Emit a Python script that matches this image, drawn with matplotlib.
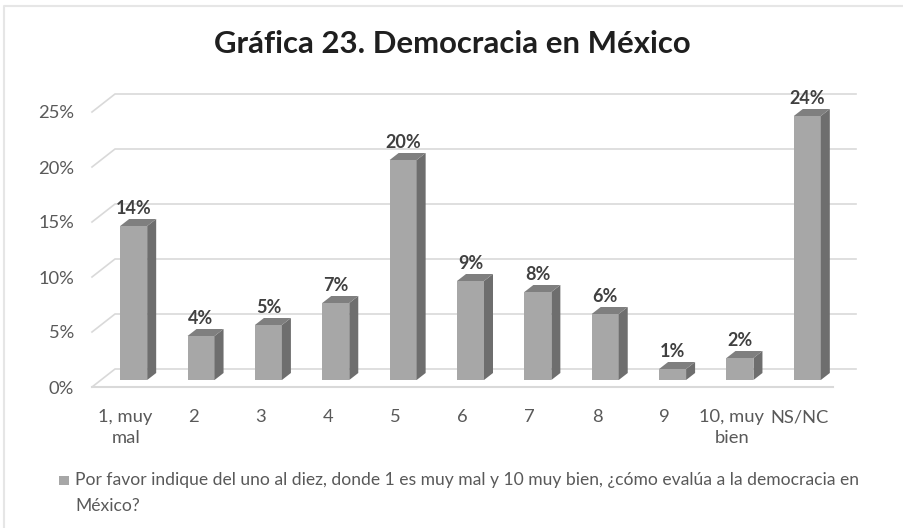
import matplotlib.pyplot as plt
from matplotlib.patches import Polygon
from matplotlib.lines import Line2D
from matplotlib.patches import Rectangle

plt.rcParams['font.family'] = ['Lato', 'DejaVu Sans']

categorias = ['1, muy\nmal', '2', '3', '4', '5', '6', '7', '8', '9', '10, muy\nbien', 'NS/NC']
valores = [0.14, 0.04, 0.05, 0.07, 0.20, 0.09, 0.08, 0.06, 0.01, 0.02, 0.24]
yticks = [0, 0.05, 0.10, 0.15, 0.20, 0.25]
ytick_labels = ['0%', '5%', '10%', '15%', '20%', '25%']
titulo = 'Gráfica 23. Democracia en México'
leyenda = ('Por favor indique del uno al diez, donde 1 es muy mal y 10 muy bien, ¿cómo evalúa a la democracia en\n'
           'México?')

fig = plt.figure(figsize=(9.04, 5.28), dpi=100)
ax = fig.add_axes([92 / 904, 1 - 387 / 528, 741 / 904, 275 / 528])
ax.set_xlim(-0.5, len(categorias) - 0.5)
ax.set_ylim(0, 0.25)
for s in ax.spines.values():
    s.set_visible(False)

# profundidad del efecto 3D (en unidades de datos)
px_x = 741 / len(categorias)
px_y = 275 / 0.25
fondo_dx, fondo_dy = 23 / px_x, 18 / px_y
barra_dx, barra_dy = 8 / px_x, 7 / px_y
lado_dx, lado_dy = 9 / px_x, 7 / px_y
ancho = 27 / px_x

grid_c = '#d9d9d9'
x0, x1 = -0.5, len(categorias) - 0.5
for v in yticks:
    ax.add_line(Line2D([x0, x0 + fondo_dx, x1 + fondo_dx], [v, v + fondo_dy, v + fondo_dy],
                       color=grid_c, lw=1.2, clip_on=False, zorder=1))
ax.add_line(Line2D([x0, x1], [0, 0], color=grid_c, lw=1.5, clip_on=False, zorder=1))

frente_c, lado_c, techo_c = '#a7a7a7', '#6e6e6e', '#7f7f7f'
for i, v in enumerate(valores):
    xl = i - ancho / 2 + barra_dx
    xr = xl + ancho
    yb = barra_dy
    yt = v + barra_dy
    ax.add_patch(Polygon([(xl, yb), (xr, yb), (xr, yt), (xl, yt)], closed=True,
                         facecolor=frente_c, edgecolor='none', clip_on=False, zorder=3))
    ax.add_patch(Polygon([(xr, yb), (xr + lado_dx, yb + lado_dy), (xr + lado_dx, yt + lado_dy), (xr, yt)],
                         closed=True, facecolor=lado_c, edgecolor='none', clip_on=False, zorder=3))
    ax.add_patch(Polygon([(xl, yt), (xr, yt), (xr + lado_dx, yt + lado_dy), (xl + lado_dx, yt + lado_dy)],
                         closed=True, facecolor=techo_c, edgecolor='none', clip_on=False, zorder=3))
    ax.annotate(f'{v * 100:.0f}%', (i + barra_dx, yt + lado_dy), xytext=(0, 7.5),
                textcoords='offset points', ha='center', va='center', fontsize=13,
                fontweight='bold', color='#404040', zorder=4, annotation_clip=False)

ax.set_xticks(range(len(categorias)))
ax.set_xticklabels(categorias, fontsize=13.2, color='#595959', linespacing=1.4)
ax.set_yticks(yticks)
ax.set_yticklabels(ytick_labels, fontsize=13.2, color='#595959')
ax.tick_params(length=0)
ax.tick_params(axis='x', pad=16)
ax.tick_params(axis='y', pad=13)

fig.text(0.5, 1 - 44 / 528, titulo, ha='center', va='center', fontsize=22.4,
         fontweight='bold', color='#1f1f1f')

# leyenda
fig.patches.append(Rectangle((59 / 904, 1 - 485 / 528), 10 / 904, 9 / 528,
                             transform=fig.transFigure, facecolor=frente_c, edgecolor='none'))
fig.text(75 / 904, 1 - 472 / 528, leyenda, ha='left', va='top', fontsize=12.6,
         color='#595959', linespacing=1.75)

# borde del área del gráfico
fig.add_artist(Line2D([4.5 / 904, 4.5 / 904, 1], [0, 1 - 5.5 / 528, 1 - 5.5 / 528],
                      transform=fig.transFigure, color='#e6e6e6', lw=1.5))

fig.savefig('out.png', dpi=100, facecolor='white')
